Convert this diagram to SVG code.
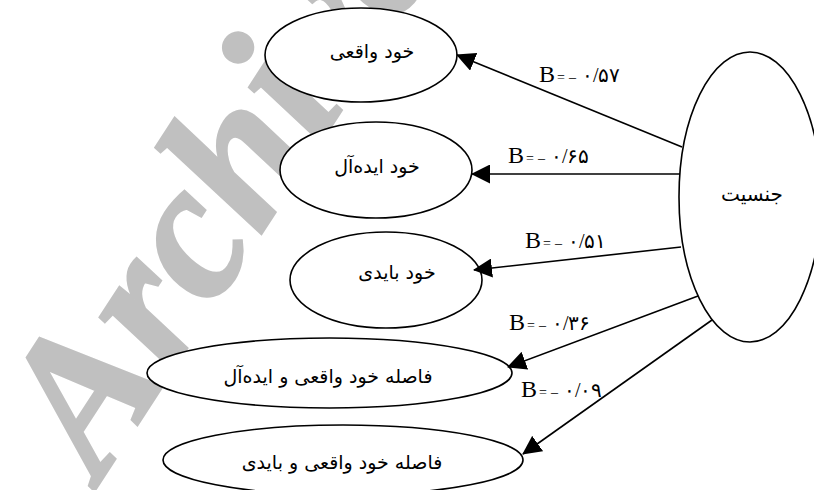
<svg xmlns="http://www.w3.org/2000/svg" width="814" height="490" viewBox="0 0 814 490">
<style>
.node{fill:#fff;stroke:#000;stroke-width:1.6}
.fa{font-family:"DejaVu Sans","Noto Sans",sans-serif;font-size:19px;fill:#000;text-anchor:middle}
.edge{stroke:#000;stroke-width:1.6;fill:none;marker-end:url(#ah)}
.lbl{font-family:"Liberation Serif","DejaVu Serif",serif;fill:#000;font-size:20px}
.lbl .b{font-size:24px}
.lbl .eq{font-size:14px}
.lbl .d{letter-spacing:3px}
.wm{font-family:"Liberation Serif",serif;font-weight:bold;font-style:italic;fill:#c0c0c0;stroke:#c0c0c0;stroke-width:3;font-size:195px}
</style>
<defs>
<marker id="ah" markerUnits="userSpaceOnUse" markerWidth="19" markerHeight="19" refX="18" refY="9.5" orient="auto" viewBox="0 0 19 19">
<path d="M0,0 L19,9.5 L0,19 Z" fill="#000"/>
</marker>
</defs>
<rect width="814" height="490" fill="#fff"/>
<text class="wm" transform="translate(100,482) rotate(-57)">Archive</text>
<g id="n-gender"><ellipse class="node" cx="750" cy="197" rx="71" ry="145"/><text class="fa" x="752" y="201" style="font-size:20px">جنسیت</text></g>
<g id="n-actual"><ellipse class="node" cx="361" cy="55" rx="96" ry="47"/><text class="fa" x="372" y="58">خود واقعی</text></g>
<g id="n-ideal"><ellipse class="node" cx="376" cy="170" rx="96" ry="48"/><text class="fa" x="377" y="173">خود ایده‌آل</text></g>
<g id="n-ought"><ellipse class="node" cx="386" cy="280" rx="96" ry="48"/><text class="fa" x="397" y="279">خود بایدی</text></g>
<g id="n-gap1"><ellipse class="node" cx="329.5" cy="373" rx="182.5" ry="35"/><text class="fa" x="328" y="383">فاصله خود واقعی و ایده‌آل</text></g>
<g id="n-gap2"><ellipse class="node" cx="343" cy="460" rx="180" ry="35"/><text class="fa" x="342" y="469">فاصله خود واقعی و بایدی</text></g>
<g id="edges">
<line class="edge" x1="682" y1="147" x2="457" y2="55"/>
<line class="edge" x1="680" y1="174" x2="472" y2="174"/>
<line class="edge" x1="681" y1="247" x2="474" y2="270"/>
<line class="edge" x1="698" y1="296" x2="508" y2="367"/>
<line class="edge" x1="712" y1="320" x2="523" y2="454"/>
<text class="lbl" x="539" y="82"><tspan class="b">B</tspan><tspan class="eq" dx="2">=</tspan><tspan class="eq" dx="4">–</tspan><tspan class="d" dx="6">۰/۵۷</tspan></text>
<text class="lbl" x="508" y="163"><tspan class="b">B</tspan><tspan class="eq" dx="2">=</tspan><tspan class="eq" dx="4">–</tspan><tspan class="d" dx="6">۰/۶۵</tspan></text>
<text class="lbl" x="525" y="248"><tspan class="b">B</tspan><tspan class="eq" dx="2">=</tspan><tspan class="eq" dx="4">–</tspan><tspan class="d" dx="6">۰/۵۱</tspan></text>
<text class="lbl" x="509" y="330"><tspan class="b">B</tspan><tspan class="eq" dx="2">=</tspan><tspan class="eq" dx="4">–</tspan><tspan class="d" dx="6">۰/۳۶</tspan></text>
<text class="lbl" x="521" y="397"><tspan class="b">B</tspan><tspan class="eq" dx="2">=</tspan><tspan class="eq" dx="4">–</tspan><tspan class="d" dx="6">۰/۰۹</tspan></text>
</g>
</svg>
